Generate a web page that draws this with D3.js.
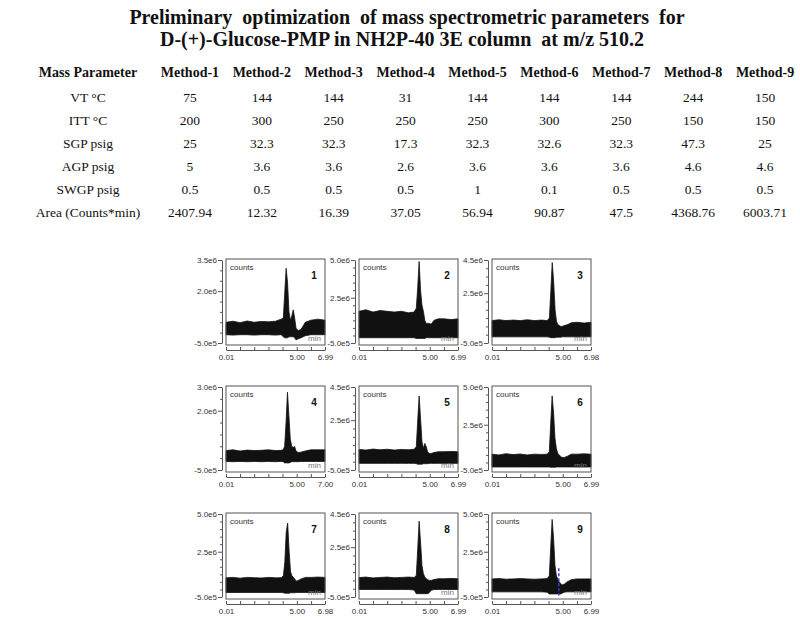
<!DOCTYPE html>
<html lang="en">
<head>
<meta charset="UTF-8">
<title>Mass spectrometric parameters</title>
<script src="https://d3js.org/d3.v7.min.js"></script>
<style>
  body { margin: 0; background: #fff; }
  .title { white-space: pre; }
</style>
</head>
<body>
<script>
  // ---- table data ----
  var methods = ["Method-1", "Method-2", "Method-3", "Method-4", "Method-5", "Method-6", "Method-7", "Method-8", "Method-9"];
  var params = ["VT \u00b0C", "ITT \u00b0C", "SGP psig", "AGP psig", "SWGP psig", "Area (Counts*min)"];
  var vt   = [75, 144, 144, 31, 144, 144, 144, 244, 150];
  var itt  = [200, 300, 250, 250, 250, 300, 250, 150, 150];
  var sgp  = [25, 32.3, 32.3, 17.3, 32.3, 32.6, 32.3, 47.3, 25];
  var agp  = [5, 3.6, 3.6, 2.6, 3.6, 3.6, 3.6, 4.6, 4.6];
  var swgp = [0.5, 0.5, 0.5, 0.5, 1, 0.1, 0.5, 0.5, 0.5];
  var area = [2407.94, 12.32, 16.39, 37.05, 56.94, 90.87, 47.5, 4368.76, 6003.71];

  // ---- chromatogram data (counts in millions) ----
  var minutes = [0.01, 0.5, 1.0, 1.5, 2.0, 2.5, 3.0, 3.5, 3.9, 4.05, 4.15, 4.25, 4.35, 4.45, 4.55, 4.65, 4.75, 4.85, 4.95, 5.1, 5.3, 5.6, 6.0, 6.5, 6.99];
  var upper1 = [0.50, 0.55, 0.48, 0.56, 0.50, 0.54, 0.52, 0.55, 0.65, 0.70, 1.90, 3.10, 2.40, 1.00, 0.60, 0.80, 1.10, 0.70, 0.20, 0.10, 0.15, 0.50, 0.60, 0.65, 0.60];
  var lower1 = [-0.10, -0.12, -0.10, -0.10, -0.12, -0.10, -0.10, -0.12, -0.10, -0.20, -0.25, -0.25, -0.25, -0.20, -0.20, -0.20, -0.20, -0.25, -0.35, -0.30, -0.25, -0.15, -0.10, -0.10, -0.10];
  var upper2 = [1.60, 1.70, 1.55, 1.65, 1.60, 1.55, 1.60, 1.50, 1.55, 1.80, 3.20, 4.90, 3.00, 2.00, 1.60, 1.00, 0.80, 0.80, 0.80, 0.75, 1.00, 1.10, 1.10, 1.05, 1.10];
  var lower2 = [-0.15, -0.15, -0.15, -0.15, -0.15, -0.15, -0.15, -0.15, -0.15, -0.20, -0.20, -0.20, -0.20, -0.20, -0.20, -0.20, -0.15, -0.15, -0.15, -0.15, -0.15, -0.15, -0.15, -0.15, -0.15];
  var upper3 = [0.85, 0.90, 0.85, 0.88, 0.85, 0.90, 0.85, 0.88, 0.85, 1.00, 2.60, 4.35, 3.20, 1.50, 0.80, 0.60, 0.55, 0.50, 0.50, 0.55, 0.60, 0.72, 0.75, 0.70, 0.75];
  var lower3 = [-0.13, -0.13, -0.13, -0.13, -0.13, -0.13, -0.13, -0.13, -0.13, -0.15, -0.18, -0.18, -0.18, -0.18, -0.15, -0.15, -0.15, -0.15, -0.13, -0.13, -0.13, -0.13, -0.13, -0.13, -0.13];
  var upper4 = [0.32, 0.35, 0.30, 0.34, 0.32, 0.33, 0.35, 0.32, 0.33, 0.35, 0.50, 1.50, 2.78, 1.80, 0.80, 0.50, 0.45, 0.50, 0.30, 0.24, 0.25, 0.30, 0.35, 0.35, 0.35];
  var lower4 = [-0.14, -0.15, -0.14, -0.15, -0.14, -0.15, -0.14, -0.15, -0.14, -0.15, -0.20, -0.20, -0.20, -0.20, -0.18, -0.15, -0.15, -0.15, -0.15, -0.15, -0.14, -0.14, -0.14, -0.14, -0.14];
  var upper5 = [0.74, 0.70, 0.76, 0.72, 0.75, 0.70, 0.74, 0.72, 0.75, 0.90, 2.50, 3.96, 2.60, 1.20, 0.80, 1.10, 0.90, 0.60, 0.50, 0.50, 0.55, 0.60, 0.60, 0.62, 0.60];
  var lower5 = [-0.10, -0.10, -0.10, -0.10, -0.10, -0.10, -0.10, -0.10, -0.10, -0.12, -0.15, -0.15, -0.15, -0.15, -0.12, -0.12, -0.12, -0.12, -0.10, -0.10, -0.10, -0.10, -0.10, -0.10, -0.10];
  var upper6 = [0.55, 0.50, 0.58, 0.52, 0.56, 0.50, 0.55, 0.53, 0.55, 0.70, 2.60, 4.41, 3.30, 1.60, 0.90, 0.60, 0.50, 0.40, 0.33, 0.33, 0.40, 0.55, 0.55, 0.57, 0.55];
  var lower6 = [-0.30, -0.30, -0.30, -0.30, -0.30, -0.30, -0.30, -0.30, -0.30, -0.30, -0.32, -0.32, -0.32, -0.32, -0.30, -0.30, -0.30, -0.30, -0.30, -0.30, -0.30, -0.30, -0.30, -0.30, -0.30];
  var upper7 = [0.77, 0.80, 0.75, 0.80, 0.78, 0.76, 0.80, 0.77, 0.78, 0.90, 1.80, 3.80, 4.40, 2.60, 1.20, 0.90, 0.80, 0.70, 0.55, 0.60, 0.70, 0.80, 0.80, 0.82, 0.80];
  var lower7 = [-0.20, -0.20, -0.20, -0.20, -0.20, -0.20, -0.20, -0.20, -0.20, -0.22, -0.25, -0.25, -0.25, -0.25, -0.22, -0.22, -0.22, -0.22, -0.20, -0.20, -0.20, -0.20, -0.20, -0.20, -0.20];
  var upper8 = [0.67, 0.70, 0.65, 0.68, 0.70, 0.66, 0.68, 0.70, 0.68, 0.80, 2.40, 4.07, 2.80, 1.40, 0.90, 0.70, 0.60, 0.55, 0.50, 0.50, 0.55, 0.60, 0.60, 0.62, 0.60];
  var lower8 = [-0.05, -0.05, -0.05, -0.05, -0.05, -0.05, -0.05, -0.05, -0.08, -0.30, -0.30, -0.30, -0.30, -0.30, -0.30, -0.30, -0.30, -0.30, -0.25, -0.10, -0.05, -0.05, -0.05, -0.05, -0.05];
  var upper9 = [0.70, 0.72, 0.68, 0.70, 0.72, 0.70, 0.68, 0.70, 0.72, 0.90, 2.80, 4.64, 3.40, 1.60, 0.90, 0.70, 0.50, 0.40, 0.30, 0.35, 0.50, 0.65, 0.70, 0.70, 0.70];
  var lower9 = [-0.16, -0.16, -0.16, -0.16, -0.16, -0.16, -0.16, -0.16, -0.18, -0.30, -0.30, -0.30, -0.30, -0.30, -0.30, -0.30, -0.30, -0.30, -0.25, -0.18, -0.16, -0.16, -0.16, -0.16, -0.16];

  var yMax = [3.5, 5.0, 4.5, 3.0, 4.5, 5.0, 5.0, 4.5, 5.0];
  var yMid = [2.0, 2.5, 2.5, 2.0, 2.5, 2.5, 2.5, 2.5, 2.5];
  var xEnd = [6.99, 6.99, 6.98, 7.00, 6.99, 6.99, 6.98, 6.99, 6.99];
  var markerTime = [4.72];      // blue marker in panel 9
  var markerRange = [1.4, -0.4];

  var uppers = [upper1, upper2, upper3, upper4, upper5, upper6, upper7, upper8, upper9];
  var lowers = [lower1, lower2, lower3, lower4, lower5, lower6, lower7, lower8, lower9];

  var svg = d3.select("body").append("svg")
    .attr("width", 800)
    .attr("height", 620);

  var serif = "'Liberation Serif', 'Times New Roman', serif";
  var sans = "'Liberation Sans', Arial, sans-serif";

  // ---- title ----
  var title = svg.append("text")
    .attr("class", "title")
    .attr("text-anchor", "middle")
    .attr("font-family", serif)
    .attr("font-weight", "bold")
    .attr("font-size", 20)
    .attr("fill", "#111");
  title.append("tspan").attr("x", 407).attr("y", 24)
    .text("Preliminary  optimization  of mass spectrometric parameters  for");
  title.append("tspan").attr("x", 402).attr("y", 46)
    .text("D-(+)-Glucose-PMP in NH2P-40 3E column  at m/z 510.2");

  // ---- table ----
  var colX = d3.scaleBand().domain(methods).range([154, 801]);
  var rowY = d3.scalePoint().domain(params).range([102, 217]);
  var rows = [vt, itt, sgp, agp, swgp, area];

  var table = svg.append("g").attr("font-family", serif).attr("fill", "#111");
  table.append("text")
    .attr("x", 88).attr("y", 77)
    .attr("text-anchor", "middle")
    .attr("font-weight", "bold").attr("font-size", 14)
    .text("Mass Parameter");
  table.selectAll("text.head")
    .data(methods)
    .enter().append("text")
    .attr("class", "head")
    .attr("x", function (d) { return colX(d) + colX.bandwidth() / 2; })
    .attr("y", 77)
    .attr("text-anchor", "middle")
    .attr("font-weight", "bold").attr("font-size", 14)
    .text(function (d) { return d; });

  params.forEach(function (p, r) {
    table.append("text")
      .attr("x", 88).attr("y", rowY(p))
      .attr("text-anchor", "middle").attr("font-size", 13.5)
      .text(p);
    table.selectAll(null)
      .data(rows[r])
      .enter().append("text")
      .attr("x", function (d, i) { return colX(methods[i]) + colX.bandwidth() / 2; })
      .attr("y", rowY(p))
      .attr("text-anchor", "middle").attr("font-size", 13.5)
      .text(function (d) { return d; });
  });

  // ---- chromatogram panels ----
  var colLeft = [226, 359, 492];
  var rowTop = [259, 386, 513];
  var pw = 99, ph = 86;
  var fmtY = function (v) { return (v * 1e6).toExponential(1).replace("+", ""); };

  uppers.forEach(function (up, k) {
    var L = colLeft[k % 3], T = rowTop[Math.floor(k / 3)];
    var x = d3.scaleLinear().domain([0.01, xEnd[k]]).range([L, L + pw]).clamp(true);
    var y = d3.scaleLinear().domain([-0.5, yMax[k]]).range([T + 84, T + 1]);
    var g = svg.append("g");

    // noise band + peak
    var band = d3.area()
      .x(function (d, i) { return x(minutes[i]); })
      .y0(function (d, i) { return y(lowers[k][i]); })
      .y1(function (d) { return y(d); });
    g.append("path").datum(up)
      .attr("d", band)
      .attr("fill", "#111")
      .attr("stroke", "#111")
      .attr("stroke-width", 0.8);

    // frame
    g.append("rect")
      .attr("x", L).attr("y", T).attr("width", pw).attr("height", ph)
      .attr("fill", "none").attr("stroke", "#555").attr("stroke-width", 1);

    g.append("text").attr("x", L + 4).attr("y", T + 11)
      .attr("font-family", sans).attr("font-size", 8).attr("fill", "#333")
      .text("counts");
    g.append("text").attr("x", L + pw - 11).attr("y", T + 20)
      .attr("text-anchor", "middle")
      .attr("font-family", sans).attr("font-size", 10).attr("font-weight", "bold").attr("fill", "#111")
      .text(k + 1);
    g.append("text").attr("x", L + pw - 4).attr("y", T + 82)
      .attr("text-anchor", "end")
      .attr("font-family", sans).attr("font-size", 8).attr("fill", "#777")
      .text("min");

    // y axis
    var yLabels = [-0.5, yMid[k], yMax[k]];
    var isLabel = function (v) { return yLabels.some(function (l) { return Math.abs(l - v) < 1e-6; }); };
    var yAxis = g.append("g")
      .attr("transform", "translate(" + (L - 4) + ",0)")
      .call(d3.axisLeft(y)
        .tickValues(d3.range(-0.5, yMax[k] + 0.01, 0.5))
        .tickSize(2).tickSizeOuter(0).tickPadding(2)
        .tickFormat(function (v) { return isLabel(v) ? fmtY(v) : ""; }));
    yAxis.selectAll(".tick line")
      .attr("x2", function (v) { return isLabel(v) ? -4 : -2; });
    yAxis.selectAll(".tick text").attr("x", -5);

    // x axis
    var xLabels = [0.01, 5, xEnd[k]];
    var xAxis = g.append("g")
      .attr("transform", "translate(0," + (T + ph + 5) + ")")
      .call(d3.axisBottom(x)
        .tickValues([0.01, 1, 2, 3, 4, 5, 6, xEnd[k]])
        .tickSize(-3).tickSizeOuter(0).tickPadding(4)
        .tickFormat(function (v) { return xLabels.indexOf(v) >= 0 ? d3.format(".2f")(v) : ""; }));

    [yAxis, xAxis].forEach(function (a) {
      a.attr("font-family", sans).attr("font-size", 8);
      a.selectAll("path, line").attr("stroke", "#555");
      a.selectAll("text").attr("fill", "#333");
    });

    if (k === 8) {
      g.append("line")
        .attr("x1", x(markerTime[0])).attr("x2", x(markerTime[0]))
        .attr("y1", y(markerRange[0])).attr("y2", y(markerRange[1]))
        .attr("stroke", "#3b3bd6").attr("stroke-width", 1.5)
        .attr("stroke-dasharray", "3,2");
    }
  });
</script>
</body>
</html>
